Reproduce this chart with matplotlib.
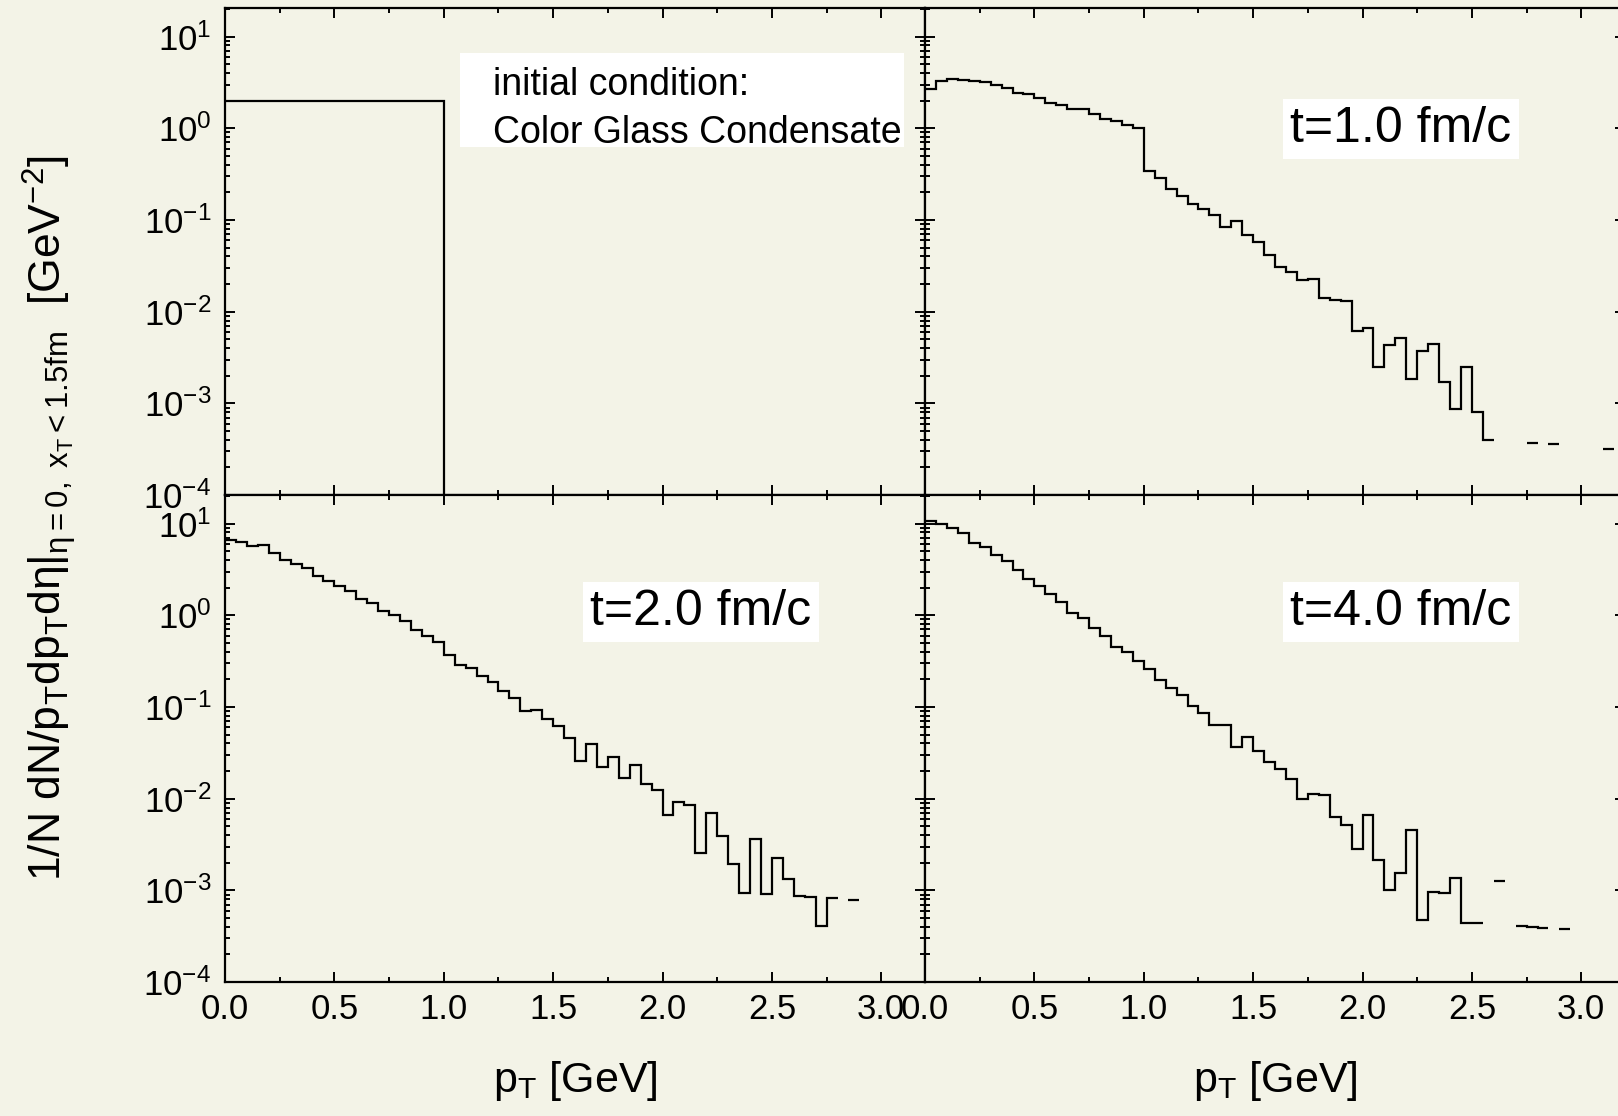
import numpy as np
import matplotlib
matplotlib.use('Agg')
import matplotlib.pyplot as plt
from matplotlib.patches import Rectangle
from matplotlib.ticker import MultipleLocator, FormatStrFormatter, LogLocator, NullFormatter

plt.rcParams['font.family'] = ['Liberation Sans', 'DejaVu Sans']
plt.rcParams['mathtext.fontset'] = 'custom'
plt.rcParams['mathtext.rm'] = 'Liberation Sans'
plt.rcParams['mathtext.it'] = 'Liberation Sans:italic'
plt.rcParams['mathtext.default'] = 'regular'
plt.rcParams['axes.unicode_minus'] = False

nan = np.nan

# bin edges in p_T [GeV], 0.05 GeV bins
edges = np.round(np.linspace(0.0, 3.2, 65), 3)

# initial condition (Color Glass Condensate): flat up to 1 GeV
cgc = [2.0] * 20 + [0.0] * 44

# t = 1.0 fm/c
t1 = [2.71, 3.28, 3.43, 3.34, 3.26, 3.2, 2.94, 2.75, 2.45, 2.39,
      2.16, 1.87, 1.78, 1.64, 1.61, 1.42, 1.25, 1.19, 1.08, 1.01,
      0.345, 0.285, 0.216, 0.181, 0.150, 0.131, 0.112, 0.083, 0.0966, 0.068,
      0.0575, 0.041, 0.031, 0.0271, 0.022, 0.0229, 0.0142, 0.0133, 0.013, 0.0062,
      0.00664, 0.00247, 0.00437, 0.0052, 0.00186, 0.00369, 0.00448, 0.00171, 0.00086, 0.00249,
      0.00081, 0.000398, nan, nan, nan, 0.000366, nan, 0.00036, nan, nan,
      nan, nan, 0.00032, nan]

# t = 2.0 fm/c
t2 = [6.6, 6.3, 5.7, 5.9, 4.8, 3.99, 3.61, 3.24, 2.70, 2.38,
      2.08, 1.84, 1.51, 1.35, 1.10, 1.0, 0.875, 0.693, 0.596, 0.505,
      0.371, 0.288, 0.265, 0.215, 0.185, 0.149, 0.125, 0.0905, 0.0936, 0.074,
      0.0627, 0.046, 0.0257, 0.039, 0.0223, 0.0286, 0.0169, 0.0234, 0.0144, 0.0124,
      0.0067, 0.0092, 0.0085, 0.00255, 0.00705, 0.00393, 0.00193, 0.000935, 0.00367, 0.000905,
      0.00223, 0.00133, 0.00086, 0.00085, 0.000413, 0.00082, nan, 0.00078, nan, nan,
      nan, nan, nan, nan]

# t = 4.0 fm/c
t4 = [10.6, 9.8, 9.05, 7.9, 6.2, 5.57, 4.6, 3.86, 3.11, 2.48,
      2.08, 1.69, 1.38, 1.05, 0.944, 0.735, 0.596, 0.449, 0.399, 0.321,
      0.261, 0.195, 0.161, 0.136, 0.102, 0.0861, 0.0643, 0.0643, 0.0367, 0.0468,
      0.033, 0.025, 0.0208, 0.0165, 0.01, 0.0112, 0.011, 0.00637, 0.00513, 0.00281,
      0.00659, 0.00215, 0.00102, 0.00153, 0.00453, 0.00048, 0.00095, 0.00093, 0.00137, 0.000441,
      0.00044, nan, 0.00126, nan, 0.00041, 0.000395, 0.00039, nan, 0.00038, nan,
      nan, nan, nan, nan]

bg = '#f3f3e7'

fig = plt.figure(figsize=(16.18, 11.16), dpi=100, facecolor=bg)

W = 700 / 1618
H = 487 / 1116
xl, xr = 225 / 1618, 925 / 1618
yt, yb = 1 - 495 / 1116, 1 - 982 / 1116

panels = [
    (xl, yt, cgc, None, True, False),
    (xr, yt, t1, 't=1.0 fm/c', False, False),
    (xl, yb, t2, 't=2.0 fm/c', True, True),
    (xr, yb, t4, 't=4.0 fm/c', False, True),
]

axes = []
for x0, y0, vals, lab, show_y, show_x in panels:
    ax = fig.add_axes([x0, y0, W, H])
    ax.set_facecolor(bg)
    ax.set_yscale('log', nonpositive='clip')
    ax.stairs(vals, edges, baseline=None, color='black', lw=1.6)
    ax.set_xlim(0, 3.2)
    ax.set_ylim(1e-4, 20.5)

    ax.xaxis.set_major_locator(MultipleLocator(0.5))
    ax.xaxis.set_minor_locator(MultipleLocator(0.25))
    ax.xaxis.set_major_formatter(FormatStrFormatter('%.1f'))
    ax.yaxis.set_major_locator(LogLocator(base=10, numticks=20))
    ax.yaxis.set_minor_locator(LogLocator(base=10, subs=np.arange(2, 10), numticks=20))
    ax.yaxis.set_minor_formatter(NullFormatter())

    ax.tick_params(which='both', direction='in', top=True, right=True,
                   labelsize=25, width=1.4)
    ax.tick_params(which='major', length=7)
    ax.tick_params(which='minor', length=3.5)
    ax.tick_params(axis='x', pad=8)
    ax.tick_params(axis='y', pad=10)
    ax.tick_params(labelleft=show_y, labelbottom=show_x)
    for sp in ax.spines.values():
        sp.set_linewidth(1.6)

    if show_x:
        ax.set_xlabel('p$_T$ [GeV]', fontsize=31, labelpad=24)

    if lab is not None:
        ty = 0.7515 if y0 == yt else 0.76
        ax.text(0.68, ty, lab, transform=ax.transAxes, fontsize=36,
                ha='center', va='center',
                bbox=dict(boxstyle='square,pad=0.14', facecolor='white', edgecolor='none'))
    axes.append(ax)

# initial condition note in the first panel
ax0 = axes[0]
ax0.add_patch(Rectangle((0.336, 0.715), 0.634, 0.193, transform=ax0.transAxes,
                        facecolor='white', edgecolor='none', zorder=3))
ax0.text(0.383, 0.821, 'initial condition:', transform=ax0.transAxes,
         fontsize=27, ha='left', va='baseline', zorder=4)
ax0.text(0.383, 0.723, 'Color Glass Condensate', transform=ax0.transAxes,
         fontsize=27, ha='left', va='baseline', zorder=4)

fig.text(20 / 1618, 0.536,
         '1/N dN/p$_T$dp$_T$dη|$_{η=0,\\ x_T<1.5fm}$  [GeV$^{-2}$]',
         rotation=90, ha='left', va='center', fontsize=32)

fig.savefig('out.png', dpi=100, facecolor=bg)
